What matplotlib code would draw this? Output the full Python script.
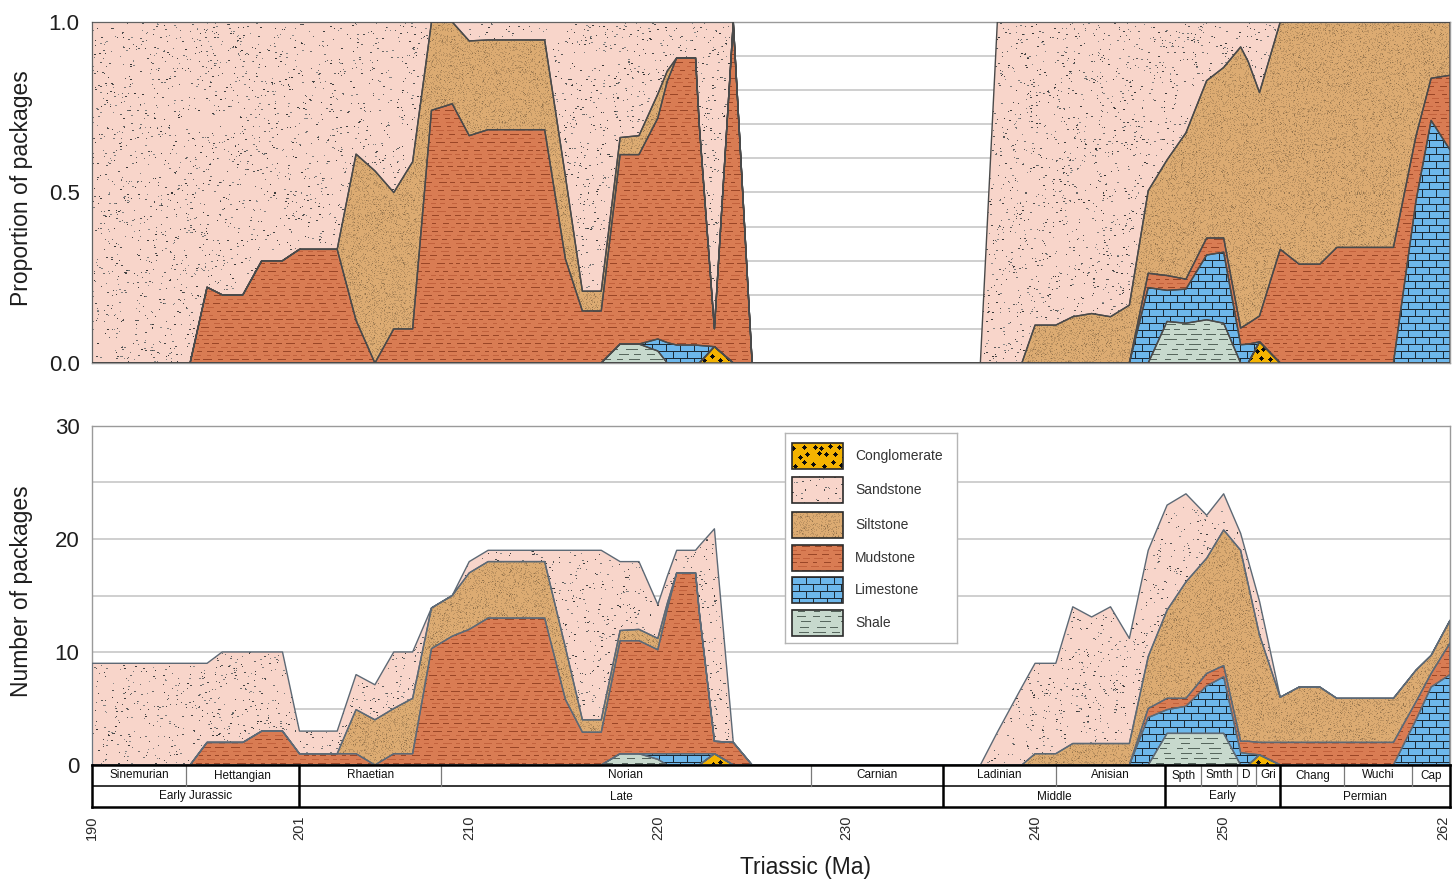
import numpy as np
import matplotlib
matplotlib.use("Agg")
import matplotlib.pyplot as plt
from matplotlib.colors import to_rgb
from matplotlib.patches import Rectangle
from matplotlib.path import Path

plt.rcParams['font.family'] = ['Liberation Sans', 'DejaVu Sans']

# ---------------------------------------------------------------------------
# Number of sedimentary packages per lithology through time (age in Ma)
# ---------------------------------------------------------------------------
age_ma = [190.0, 195.2, 196.1, 196.9, 198.0, 199.0, 200.1, 201.0, 203.0, 204.0,
          205.0, 206.0, 207.0, 208.0, 209.1, 210.0, 211.0, 214.0, 215.1, 216.0,
          217.0, 218.0, 219.0, 220.0, 220.5, 221.0, 222.0, 222.2, 223.0, 224.0,
          225.0, 237.1, 238.0, 239.3, 240.0, 241.1, 242.0, 243.0, 244.0, 245.0,
          246.0, 247.0, 248.0, 249.1, 250.0, 250.9, 251.3, 251.9, 253.0, 254.0,
          255.1, 256.0, 259.0, 260.2, 261.0, 262.0]

conglomerate = [0, 0, 0, 0, 0, 0, 0, 0, 0, 0,
                0, 0, 0, 0, 0, 0, 0, 0, 0, 0,
                0, 0, 0, 0, 0, 0, 0, 0, 1, 0,
                0, 0, 0, 0, 0, 0, 0, 0, 0, 0,
                0, 0, 0, 0, 0, 0, 0, 0.9, 0, 0,
                0, 0, 0, 0, 0, 0]

shale = [0, 0, 0, 0, 0, 0, 0, 0, 0, 0,
         0, 0, 0, 0, 0, 0, 0, 0, 0, 0,
         0, 1, 1, 0.5, 0, 0, 0, 0, 0, 0,
         0, 0, 0, 0, 0, 0, 0, 0, 0, 0,
         0, 2.8, 2.8, 2.8, 2.8, 0, 0, 0, 0, 0,
         0, 0, 0, 0, 0, 0]

limestone = [0, 0, 0, 0, 0, 0, 0, 0, 0, 0,
             0, 0, 0, 0, 0, 0, 0, 0, 0, 0,
             0, 0, 0, 0.5, 1, 1, 1, 1, 0, 0,
             0, 0, 0, 0, 0, 0, 0, 0, 0, 0,
             4.2, 2.1, 2.4, 4.2, 5.0, 1.1, 1.0, 0, 0, 0,
             0, 0, 0, 4, 6.9, 8]

mudstone = [0, 0, 2, 2, 2, 3, 3, 1, 1, 1,
            0, 1, 1, 10.3, 11.4, 12, 13, 13, 5.8, 2.9,
            2.9, 10, 10, 9.2, 12.8, 16, 16, 12.5, 1.1, 2,
            0, 0, 0, 0, 0, 0, 0, 0, 0, 0,
            0.8, 1.0, 0.7, 1.1, 1.0, 1.0, 1.1, 1.1, 2, 2,
            2, 2, 2, 1.6, 1.2, 2.8]

siltstone = [0, 0, 0, 0, 0, 0, 0, 0, 0, 3.9,
             4.0, 4, 4.9, 3.6, 3.6, 5, 5, 5, 4.6, 1.1,
             1.1, 0.9, 1, 1, 0.5, 0, 0, 0, 0, 0,
             0, 0, 0, 0, 1, 1, 1.9, 1.9, 1.9, 1.9,
             4.6, 7.8, 10.3, 10.2, 12, 16.9, 13.9, 9.5, 4, 4.9,
             4.9, 3.9, 3.9, 2.8, 1.6, 2]

sandstone = [9, 9, 7, 8, 8, 7, 7, 2, 2, 3.1,
             3.1, 5, 4.1, 0, 0, 1, 1, 1, 8.6, 15,
             15, 6.1, 6, 3, 2.4, 2, 2, 5.9, 18.8, 0,
             0, 0, 2.9, 6.9, 8, 8, 12.1, 11.2, 12.1, 9.3,
             9.4, 9.3, 7.8, 3.8, 3.2, 1.5, 2.1, 3, 0, 0,
             0, 0, 0, 0, 0, 0]

# Chronostratigraphic table
stage_edges = [190.0, 195.0, 201.0, 208.5, 228.1, 235.1, 241.1, 246.9, 248.8,
               250.7, 251.7, 253.0, 256.4, 260.0, 262.0]
stage_names = ['Sinemurian', 'Hettangian', 'Rhaetian', 'Norian', 'Carnian',
               'Ladinian', 'Anisian', 'Spth', 'Smth', 'D', 'Gri', 'Chang',
               'Wuchi', 'Cap']
epoch_edges = [190.0, 201.0, 235.1, 246.9, 253.0, 262.0]
epoch_names = ['Early Jurassic', 'Late', 'Middle', 'Early', 'Permian']
age_ticks = [190, 201, 210, 220, 230, 240, 250, 262]


# ---------------------------------------------------------------------------
# Lithology fill textures
# ---------------------------------------------------------------------------
def solid(h, w, color):
    img = np.empty((h, w, 3))
    img[:] = to_rgb(color)
    return img


def stamp(img, ys, xs, r, color):
    h, w = img.shape[:2]
    R = int(np.ceil(r))
    oy, ox = np.mgrid[-R:R + 1, -R:R + 1]
    disk = ox ** 2 + oy ** 2 <= r * r
    for dy, dx in zip(oy[disk], ox[disk]):
        yy = ys + dy
        xx = xs + dx
        ok = (yy >= 0) & (yy < h) & (xx >= 0) & (xx < w)
        img[yy[ok], xx[ok]] = color


def sand_texture(h, w, rng):
    img = solid(h, w, '#f8d5ca')
    n = h * w // 44
    ys = rng.integers(0, h, n)
    xs = rng.integers(0, w, n)
    tone = rng.uniform(0.2, 0.55, n)[:, None]
    img[ys, xs] = tone
    big = rng.random(n) < 0.4
    img[ys[big], np.minimum(xs[big] + 1, w - 1)] = tone[big]
    return img


def silt_texture(h, w, rng):
    img = solid(h, w, '#dcab72')
    m = rng.random((h, w))
    img[m < 0.22] *= 0.86
    img[m > 0.975] *= 0.68
    return img


def dashed_rows(img, rng, spacing, start, lengths, gaps, colors):
    h, w = img.shape[:2]
    for k, y in enumerate(range(start, h, spacing)):
        c = colors[k % len(colors)]
        x = int(rng.integers(-lengths[1], 0))
        while x < w:
            L = int(rng.integers(*lengths))
            g = int(rng.integers(*gaps))
            img[y, max(x, 0):max(x + L, 0)] = c
            x += L + g


def mud_texture(h, w, rng):
    img = solid(h, w, '#d97c53')
    dashed_rows(img, rng, 4, 1, (4, 10), (3, 8),
                [np.array(to_rgb('#9a4627')), np.array(to_rgb('#c2623d'))])
    return img


def lime_texture(h, w, rng):
    img = solid(h, w, '#6db7eb')
    line = to_rgb('#1b2a36')
    rh, bw = 7, 14
    for r, y in enumerate(range(0, h, rh)):
        img[y, :] = line
        off = 0 if r % 2 == 0 else bw // 2
        for x in range(off, w, bw):
            img[y:y + rh, x] = line
    return img


def shale_texture(h, w, rng):
    img = solid(h, w, '#c7d9cd')
    dashed_rows(img, rng, 5, 2, (6, 14), (4, 12),
                [np.array(to_rgb('#56665d'))])
    return img


def cong_texture(h, w, rng):
    img = solid(h, w, '#f4b300')
    cy, cx = np.mgrid[3:h:9, 3:w:9]
    cx = cx + (np.arange(cy.shape[0])[:, None] % 2) * 4
    ys = (cy + rng.integers(-2, 3, cy.shape)).ravel()
    xs = (cx + rng.integers(-2, 3, cx.shape)).ravel()
    stamp(img, ys, xs, 2.0, (0.05, 0.05, 0.05))
    return img


LITHOLOGY = [
    ('Conglomerate', conglomerate, cong_texture),
    ('Shale', shale, shale_texture),
    ('Limestone', limestone, lime_texture),
    ('Mudstone', mudstone, mud_texture),
    ('Siltstone', siltstone, silt_texture),
    ('Sandstone', sandstone, sand_texture),
]

x = np.array(age_ma)
counts = np.array([vals for _, vals, _ in LITHOLOGY], dtype=float)
total = counts.sum(axis=0)
proportion = np.divide(counts, total, out=np.zeros_like(counts), where=total > 0)

# ---------------------------------------------------------------------------
# Figure layout
# ---------------------------------------------------------------------------
W, H = 1453, 880
fig = plt.figure(figsize=(W / 100, H / 100), dpi=100)
ax_top = fig.add_axes([92 / W, 1 - 363 / H, 1358 / W, 341 / H])
ax_bot = fig.add_axes([92 / W, 1 - 765 / H, 1358 / W, 339 / H])
ax_tab = fig.add_axes([92 / W, 1 - 807 / H, 1358 / W, 42 / H])

XLIM = (190, 262)


def draw_stack(ax, values, ylim, edge, seed):
    rng = np.random.default_rng(seed)
    h = int(round(ax.bbox.height))
    w = int(round(ax.bbox.width))
    cum = np.cumsum(values, axis=0)
    lower = np.vstack([np.zeros(len(x)), cum[:-1]])
    for (name, _, make), lo, hi in zip(LITHOLOGY, lower, cum):
        poly = ax.fill_between(x, lo, hi, facecolor='none', edgecolor=edge,
                               linewidth=1.0, zorder=3)
        path = Path.make_compound_path(*poly.get_paths())
        im = ax.imshow(make(h, w, rng), extent=(XLIM[0], XLIM[1], ylim[0], ylim[1]),
                       aspect='auto', interpolation='nearest', zorder=2)
        im.set_clip_path(path, ax.transData)
    ax.set_xlim(*XLIM)
    ax.set_ylim(*ylim)


def style_axes(ax):
    ax.set_axisbelow(True)
    for s in ax.spines.values():
        s.set_color('#9a9a9a')
        s.set_linewidth(1.0)
    ax.set_xticks([])
    ax.tick_params(axis='y', which='both', length=0, pad=9, labelsize=16,
                   labelcolor='#1e1e1e')
    ax.grid(axis='y', which='both', color='#cbcbcb', linewidth=1.3)


# Top panel: proportion of packages
draw_stack(ax_top, proportion, (0, 1.0), '#4a4a4a', 1)
style_axes(ax_top)
ax_top.set_yticks([0, 0.5, 1.0])
ax_top.set_yticklabels(['0.0', '0.5', '1.0'])
ax_top.set_yticks(np.arange(0, 1.01, 0.1), minor=True)

# Bottom panel: number of packages
draw_stack(ax_bot, counts, (0, 30), '#5d6975', 2)
style_axes(ax_bot)
ax_bot.set_yticks([0, 10, 20, 30])
ax_bot.set_yticks(np.arange(0, 31, 5), minor=True)

fig.text(22 / W, 1 - 188 / H, 'Proportion of packages', rotation=90,
         fontsize=16.5, ha='center', va='center', color='#1e1e1e')
fig.text(22 / W, 1 - 591 / H, 'Number of packages', rotation=90,
         fontsize=16.5, ha='center', va='center', color='#1e1e1e')

# Stratigraphic table below the count panel
ax_tab.set_xlim(*XLIM)
ax_tab.set_ylim(0, 2)
ax_tab.set_yticks([])
for s in ax_tab.spines.values():
    s.set_color('black')
    s.set_linewidth(1.8)
ax_tab.axhline(1, color='black', linewidth=1.1)
for e in stage_edges[1:-1]:
    if e in epoch_edges:
        ax_tab.plot([e, e], [0, 2], color='black', linewidth=1.8)
    else:
        ax_tab.plot([e, e], [1, 2], color='#7a7a7a', linewidth=0.9)
for a, b, name in zip(stage_edges[:-1], stage_edges[1:], stage_names):
    ax_tab.text((a + b) / 2, 1.5, name, ha='center', va='center', fontsize=8.5,
                color='#111111')
for a, b, name in zip(epoch_edges[:-1], epoch_edges[1:], epoch_names):
    ax_tab.text((a + b) / 2, 0.5, name, ha='center', va='center', fontsize=8.5,
                color='#111111')
ax_tab.set_xticks(age_ticks)
labels = ax_tab.set_xticklabels([str(t) for t in age_ticks], rotation=90,
                                fontsize=10.5, color='#2a2a2a')
labels[-1].set_horizontalalignment('right')
ax_tab.tick_params(axis='x', length=0, pad=6)

fig.text(805 / W, 1 - 867 / H, 'Triassic (Ma)', fontsize=16.5, ha='center',
         va='center', color='#1e1e1e')

# Legend with textured swatches
leg = fig.add_axes([785 / W, 1 - 643 / H, 172 / W, 210 / H])
leg.set_xticks([])
leg.set_yticks([])
for s in leg.spines.values():
    s.set_color('#b5b5b5')
    s.set_linewidth(1.0)
legend_order = ['Conglomerate', 'Sandstone', 'Siltstone', 'Mudstone',
                'Limestone', 'Shale']
makers = {name: make for name, _, make in LITHOLOGY}
rng_leg = np.random.default_rng(7)
row_top = [10, 44, 79, 112, 144, 177]
for name, y0 in zip(legend_order, row_top):
    y1 = y0 + 26
    leg.imshow(makers[name](26, 51, rng_leg), extent=(7, 58, y1, y0),
               aspect='auto', interpolation='nearest', zorder=2)
    leg.add_patch(Rectangle((7, y0), 51, 26, fill=False, edgecolor='#2b2b2b',
                            linewidth=1.2, zorder=3))
    leg.text(70, (y0 + y1) / 2, name, ha='left', va='center', fontsize=10,
             color='#333333')
leg.set_xlim(0, 172)
leg.set_ylim(210, 0)

fig.savefig('out.png', dpi=100)
